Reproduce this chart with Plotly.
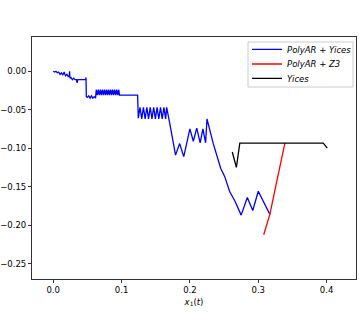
import plotly.graph_objects as go

# PolyAR + Yices (blue)
blue_x = [0.000, 0.002, 0.004, 0.006, 0.008, 0.010, 0.012, 0.014, 0.016, 0.018, 0.020, 0.022,
          0.0235, 0.024, 0.0245, 0.026, 0.028, 0.030, 0.032, 0.034, 0.035, 0.036, 0.040, 0.045,
          0.0475, 0.048, 0.0485, 0.050, 0.052, 0.054, 0.056, 0.058, 0.060, 0.062, 0.063,
          0.0645, 0.066, 0.0675, 0.069, 0.0705, 0.072, 0.0735, 0.075, 0.0765, 0.078, 0.0795, 0.081,
          0.0825, 0.084, 0.0855, 0.087, 0.0885, 0.090, 0.0915, 0.093, 0.0945, 0.096, 0.097,
          0.110, 0.1235, 0.1245,
          0.127, 0.1295, 0.132, 0.1345, 0.137, 0.1395, 0.142, 0.1445, 0.147, 0.1495, 0.152, 0.1545,
          0.157, 0.1595, 0.162, 0.1645, 0.166,
          0.171, 0.176, 0.179, 0.185, 0.191, 0.200, 0.205, 0.210, 0.215, 0.219, 0.223, 0.225,
          0.234, 0.245, 0.251, 0.258, 0.266, 0.275, 0.284, 0.292, 0.300, 0.317]
blue_y = [0.000, -0.001, 0.000, -0.002, -0.001, -0.004, -0.002, -0.005, -0.001, -0.006, -0.004, -0.007,
          -0.006, 0.000, -0.009, -0.008, -0.011, -0.009, -0.011, -0.011, -0.015, -0.011, -0.011, -0.011,
          -0.011, -0.008, -0.033, -0.034, -0.032, -0.035, -0.032, -0.035, -0.033, -0.035, -0.024,
          -0.031, -0.024, -0.031, -0.024, -0.031, -0.024, -0.031, -0.024, -0.031, -0.024, -0.031, -0.024,
          -0.031, -0.024, -0.031, -0.024, -0.031, -0.024, -0.031, -0.024, -0.031, -0.024, -0.031,
          -0.031, -0.031, -0.061,
          -0.047, -0.062, -0.047, -0.062, -0.047, -0.062, -0.047, -0.062, -0.047, -0.062, -0.047, -0.062,
          -0.047, -0.062, -0.047, -0.062, -0.047,
          -0.070, -0.096, -0.109, -0.094, -0.111, -0.075, -0.091, -0.074, -0.093, -0.075, -0.093, -0.062,
          -0.0935, -0.126, -0.137, -0.156, -0.169, -0.187, -0.164, -0.181, -0.156, -0.186]

# PolyAR + Z3 (red)
red_x = [0.308, 0.317, 0.324, 0.330, 0.335, 0.339]
red_y = [-0.2125, -0.186, -0.156, -0.130, -0.109, -0.0935]

# Yices (black)
black_x = [0.262, 0.268, 0.273, 0.395, 0.401]
black_y = [-0.105, -0.125, -0.0935, -0.0935, -0.100]

series_names = ["<i>PolyAR</i> + <i>Yices</i>", "<i>PolyAR</i> + <i>Z3</i>", "<i>Yices</i>"]
series_colors = ["#0000ff", "#ff0000", "#000000"]

x_ticks = [0.0, 0.1, 0.2, 0.3, 0.4]
x_labels = ["0.0", "0.1", "0.2", "0.3", "0.4"]
y_ticks = [0.00, -0.05, -0.10, -0.15, -0.20, -0.25]
y_labels = ["0.00", "\u22120.05", "\u22120.10", "\u22120.15", "\u22120.20", "\u22120.25"]

# plot-area geometry (pixels)
W, H = 359, 314
L, R, T, B = 32, 3, 37, 35
PW, PH = W - L - R, H - T - B


def px(xp):
    return (xp - L) / PW


def py(yp):
    return (H - B - yp) / PH


fig = go.Figure()
data = [(blue_x, blue_y), (red_x, red_y), (black_x, black_y)]
legend_ids = ["legend", "legend2", "legend3"]
for (xs, ys), name, col, lid in zip(data, series_names, series_colors, legend_ids):
    fig.add_trace(go.Scatter(x=xs, y=ys, mode="lines", line=dict(color=col, width=1.3),
                             name=name, legend=lid))

axis_common = dict(showgrid=False, zeroline=False, showline=True, linecolor="#333333", linewidth=1,
                   mirror=True, ticks="outside", ticklen=3, tickwidth=0.8, tickcolor="#333333",
                   automargin=False,
                   tickfont=dict(family="DejaVu Sans", size=8.5, color="#000000"))

legend_centers = [49.3, 64.0, 78.3]
leg_font = dict(family="DejaVu Sans", size=8.5, color="#000000")
legends = {}
for lid, yc in zip(legend_ids, legend_centers):
    legends[lid] = dict(x=px(247), y=py(yc), xanchor="left", yanchor="middle",
                        bgcolor="rgba(0,0,0,0)", borderwidth=0, font=leg_font,
                        itemwidth=30)

fig.update_layout(
    width=W, height=H,
    margin=dict(l=L, r=R, t=T, b=B, autoexpand=False),
    paper_bgcolor="white", plot_bgcolor="white",
    font=dict(family="DejaVu Sans", size=8.5, color="#000000"),
    xaxis=dict(range=[-0.031, 0.443], tickvals=x_ticks, ticktext=x_labels,
               title=dict(text="<i>x</i><sub>1</sub>(<i>t</i>)", standoff=4,
                          font=dict(family="DejaVu Sans", size=8.5)),
               **axis_common),
    yaxis=dict(range=[-0.27, 0.0445], tickvals=y_ticks, ticktext=y_labels, **axis_common),
    showlegend=True,
    **legends,
)

# legend frame
fig.add_shape(type="rect", xref="paper", yref="paper",
              x0=px(248), x1=px(353), y0=py(87), y1=py(42),
              line=dict(color="#cccccc", width=1), fillcolor="rgba(255,255,255,0.8)",
              layer="below")

fig.write_html("out.html", config={"displayModeBar": False},
               post_script="document.body.style.margin='0px';")
